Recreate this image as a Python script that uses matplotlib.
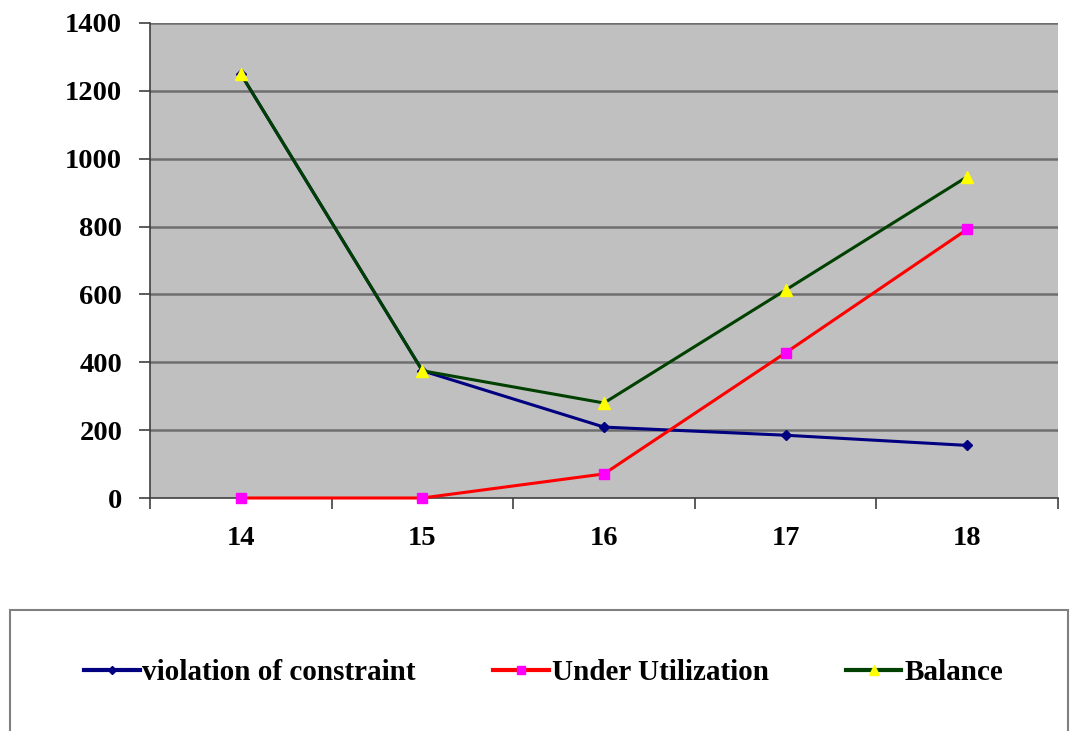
import matplotlib
matplotlib.use("Agg")
import matplotlib.pyplot as plt
from matplotlib.patches import Rectangle
import numpy as np

categories = ["14", "15", "16", "17", "18"]
violation = [1250, 375, 209, 185, 155]
under_util = [0, 0, 71, 428, 792]
balance = [1250, 375, 280, 613, 947]
y_ticks = [0, 200, 400, 600, 800, 1000, 1200, 1400]

plt.rcParams['font.family'] = ['Liberation Serif', 'DejaVu Serif']

fig = plt.figure(figsize=(10.72, 7.31), dpi=100)
ax = fig.add_axes([150 / 1072, 1 - 498 / 731, 908 / 1072, 475 / 731])
ax.set_facecolor('#C0C0C0')

x = np.arange(len(categories))
ax.set_xlim(-0.5, len(categories) - 0.5)
ax.set_ylim(0, 1400)

for y in y_ticks[1:]:
    ax.axhline(y, color='#6E6E6E', lw=1.8, zorder=1)

l1, = ax.plot(x, violation, color='#000080', lw=2.2, marker='D', ms=5,
              mfc='#000080', mec='#000080', zorder=3, clip_on=False,
              label='violation of constraint')
l2, = ax.plot(x, under_util, color='#FF0000', lw=2.2, marker='s', ms=7,
              mfc='#FF00FF', mec='#FF00FF', zorder=4, clip_on=False,
              label='Under Utilization')
l3, = ax.plot(x, balance, color='#004000', lw=2.2, marker='^', ms=8,
              mfc='#FFFF00', mec='#FFFF00', zorder=5, clip_on=False,
              label='Balance')

ax.set_yticks(y_ticks)
ax.set_yticklabels([str(v) for v in y_ticks], fontsize=20.5, fontweight='bold')
ax.set_xticks(x)
ax.set_xticklabels(categories, fontsize=20.5, fontweight='bold')
ax.tick_params(axis='x', which='major', length=0, pad=20)
ax.set_xticks(np.arange(-0.5, len(categories)), minor=True)
ax.tick_params(axis='x', which='minor', length=8, width=1.2, color='#404040', direction='out')
ax.tick_params(axis='y', length=8, width=1.2, color='#404040', direction='out', pad=12)

for s in ['top', 'right']:
    ax.spines[s].set_visible(False)
for s in ['left', 'bottom']:
    ax.spines[s].set_color('#404040')
    ax.spines[s].set_linewidth(1.2)

# legend box along the bottom
box = Rectangle((10 / 1072, -0.05), 1058 / 1072, (731 - 610) / 731 + 0.05,
                transform=fig.transFigure, facecolor='white',
                edgecolor='#808080', lw=1.5, zorder=0)
fig.patches.append(box)

leg = fig.legend(handles=[l1, l2, l3], loc='center', ncol=3,
                 bbox_to_anchor=(0.507, 1 - 673 / 731), frameon=False,
                 prop={'size': 21, 'weight': 'bold'}, handlelength=1.9,
                 handletextpad=0.1, columnspacing=2.65, markerscale=0.9)
for h in leg.legend_handles:
    h.set_linewidth(3)

fig.savefig('out.png', dpi=100)
